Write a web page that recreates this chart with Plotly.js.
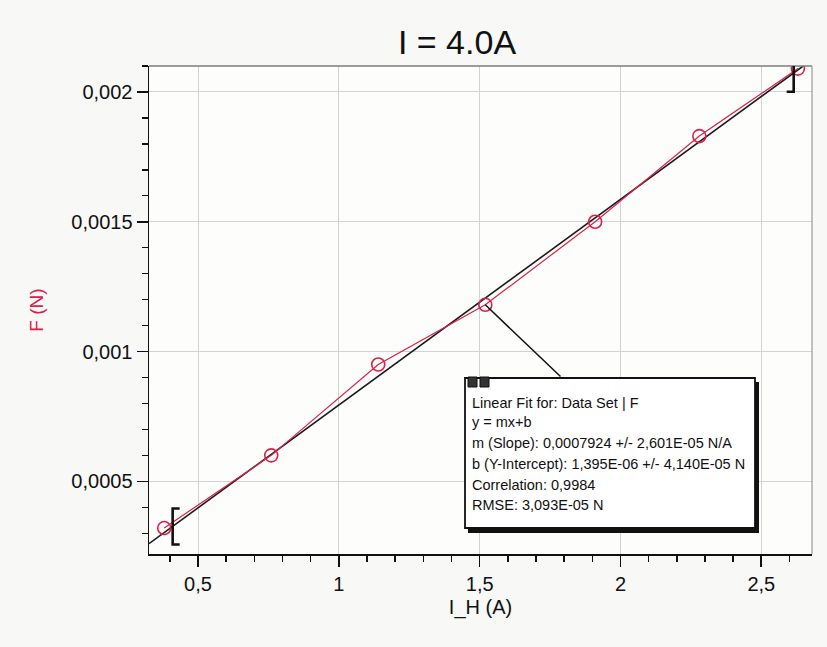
<!DOCTYPE html>
<html><head><meta charset="utf-8">
<script src="https://cdn.plot.ly/plotly-3.0.1.min.js"></script>
<style>html,body{margin:0;padding:0;background:#f8f8f6;}#chart{width:827px;height:647px;}</style>
</head><body><div id="chart"></div>
<script>
// ---- data ----
const currentIH = [0.38, 0.76, 1.14, 1.52, 1.91, 2.28, 2.63];                       // I_H (A)
const forceF    = [0.00032, 0.0006, 0.00095, 0.00118, 0.0015, 0.00183, 0.00209];    // F (N)
const fitX      = [0.326, 2.65];          // linear-fit line ends as drawn
const fitY      = [0.000260, 0.002101];
const xTickVals = [0.5, 1, 1.5, 2, 2.5];
const xTickText = ['0,5', '1', '1,5', '2', '2,5'];
const yTickVals = [0.0005, 0.001, 0.0015, 0.002];
const yTickText = ['0,0005', '0,001', '0,0015', '0,002'];
const fitLines  = ['Linear Fit for: Data Set | F', 'y = mx+b',
  'm (Slope): 0,0007924 +/- 2,601E-05 N/A',
  'b (Y-Intercept): 1,395E-06 +/- 4,140E-05 N',
  'Correlation: 0,9984', 'RMSE: 3,093E-05 N'];

// ---- layout helpers ----
const L = 149, R = 812, T = 66, B = 554;
const XR = [0.326, 2.68], YR = [0.00022, 0.0021];
const px = x => (x - L) / (R - L);          // pixel -> paper
const py = y => (B - y) / (B - T);
const xToPx = v => L + (v - XR[0]) / (XR[1] - XR[0]) * (R - L);
const yToPx = v => B - (v - YR[0]) / (YR[1] - YR[0]) * (B - T);
const FONT = "'Liberation Sans', Arial, sans-serif";
const red = '#d9214b';

const traces = [
  { x: fitX, y: fitY, mode: 'lines', line: {color: '#1a1a1a', width: 1.6}, hoverinfo: 'skip' },
  { x: currentIH, y: forceF, mode: 'lines+markers',
    line: {color: red, width: 1.2},
    marker: {symbol: 'circle-open', size: 13, color: red, line: {width: 1.6, color: red}} }
];

function bracket(xa, ya, dir) {
  // dir = 1 for "[" (serifs to right), -1 for "]" (serifs to left)
  const s = 7 * dir, h = 18;
  return {type: 'path', xref: 'x', yref: 'y', xsizemode: 'pixel', ysizemode: 'pixel',
          xanchor: xa, yanchor: ya, line: {color: '#111', width: 2.6},
          path: `M ${s} ${h} L 0 ${h} L 0 ${-h} L ${s} ${-h}`};
}

const textAnns = fitLines.map((t, i) => ({
  xref: 'paper', yref: 'paper', x: px(470), y: py([403, 422, 443, 464, 485, 505][i]),
  xanchor: 'left', yanchor: 'middle', align: 'left', showarrow: false, text: t,
  font: {family: FONT, size: 14.5, color: '#111'}
}));

const layout = {
  width: 827, height: 647,
  margin: {l: L, r: 827 - R, t: T, b: 647 - B},
  paper_bgcolor: '#f8f8f6', plot_bgcolor: '#fdfdfc',
  showlegend: false,
  font: {family: FONT, color: '#111'},
  title: {text: 'I = 4.0A', font: {family: FONT, size: 34, color: '#111'},
          xref: 'container', x: 457 / 827, xanchor: 'center',
          yref: 'container', y: 1 - 42 / 647, yanchor: 'middle'},
  xaxis: {
    range: XR, tickmode: 'array', tickvals: xTickVals, ticktext: xTickText,
    ticks: 'outside', ticklen: 11, tickwidth: 1.6, tickcolor: '#111',
    showline: true, linecolor: '#111', linewidth: 1.5,
    showgrid: true, gridcolor: '#d2d2d2', gridwidth: 1, zeroline: false,
    tickfont: {family: FONT, size: 20, color: '#111'},
    minor: {dtick: 0.1, tick0: 0, ticks: 'outside', ticklen: 6, tickwidth: 1.4, tickcolor: '#111', showgrid: false},
    title: {text: 'I_H (A)', font: {family: FONT, size: 20, color: '#111'}, standoff: 6}
  },
  yaxis: {
    range: YR, tickmode: 'array', tickvals: yTickVals, ticktext: yTickText,
    ticks: 'outside', ticklen: 11, tickwidth: 1.6, tickcolor: '#111',
    showline: true, linecolor: '#111', linewidth: 1.5,
    showgrid: true, gridcolor: '#d2d2d2', gridwidth: 1, zeroline: false,
    tickfont: {family: FONT, size: 20, color: '#111'},
    minor: {dtick: 0.0001, tick0: 0, ticks: 'outside', ticklen: 6, tickwidth: 1.4, tickcolor: '#111', showgrid: false},
    title: {text: 'F (N)', font: {family: FONT, size: 19, color: red}, standoff: 22}
  },
  shapes: [
    {type: 'line', xref: 'paper', yref: 'paper', x0: 0, x1: 1, y0: 1, y1: 1, line: {color: '#7d7d7d', width: 1.6}},
    {type: 'line', xref: 'paper', yref: 'paper', x0: 1, x1: 1, y0: 0, y1: 1, line: {color: '#9a9a9a', width: 1.2}},
    bracket(0.41, 0.000326, 1),
    bracket(2.615, 0.00207, -1),
    // fit info box: shadow + box
    {type: 'rect', xref: 'paper', yref: 'paper', layer: 'above',
     x0: px(468), x1: px(759), y0: py(382), y1: py(533), fillcolor: '#111', line: {width: 0}},
    {type: 'rect', xref: 'paper', yref: 'paper', layer: 'above',
     x0: px(465), x1: px(755), y0: py(378), y1: py(528), fillcolor: '#ffffff', line: {color: '#111', width: 1.8}},
    {type: 'rect', xref: 'paper', yref: 'paper', layer: 'above',
     x0: px(468), x1: px(477), y0: py(377), y1: py(387), fillcolor: '#333', line: {color: '#111', width: 1}},
    {type: 'rect', xref: 'paper', yref: 'paper', layer: 'above',
     x0: px(480), x1: px(489), y0: py(377), y1: py(387), fillcolor: '#333', line: {color: '#111', width: 1}}
  ],
  annotations: [
    {x: currentIH[3], y: forceF[3], xref: 'x', yref: 'y', text: '', showarrow: true,
     arrowhead: 0, arrowwidth: 1.5, arrowcolor: '#111',
     ax: 562 - xToPx(currentIH[3]), ay: 378 - yToPx(forceF[3]), standoff: 0, startstandoff: 0}
  ].concat(textAnns)
};

Plotly.newPlot('chart', traces, layout, {displayModeBar: false, staticPlot: true});
</script></body></html>
